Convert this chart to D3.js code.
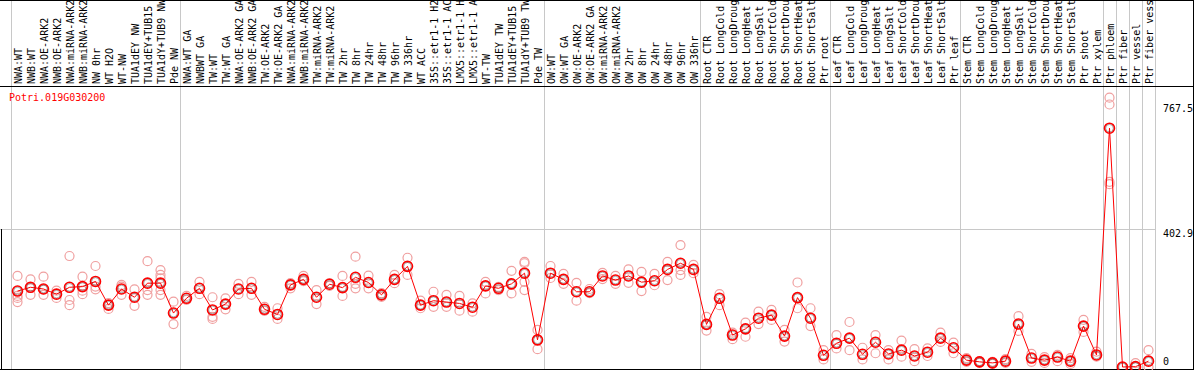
<!DOCTYPE html>
<html>
<head>
<meta charset="utf-8">
<script src="https://cdn.jsdelivr.net/npm/d3@7"></script>
<style>
  body { margin: 0; background: #fff; }
  svg { display: block; font-family: "DejaVu Sans Mono", monospace; font-size: 10px; }
</style>
</head>
<body>
<div id="chartContainer"></div>
<script>
// sample names, one column each
const samples = [
  "NWA:WT", "NWB:WT", "NWA:OE-ARK2", "NWB:OE-ARK2", "NWA:miRNA-ARK2", "NWB:miRNA-ARK2",
  "NW 0hr", "WT H2O", "WT-NW", "TUA1dEY NW", "TUA1dEY+TUB15 NW", "TUA1dY+TUB9 NW", "Pde NW",
  "NWA:WT GA", "NWBWT GA", "TW:WT", "TW:WT GA", "NWA:OE-ARK2 GA", "NWB:OE-ARK2 GA",
  "TW:OE-ARK2", "TW:OE-ARK2 GA", "NWA:miRNA-ARK2", "NWB:miRNA-ARK2", "TW:miRNA-ARK2", "TW:miRNA-ARK2",
  "TW 2hr", "TW 8hr", "TW 24hr", "TW 48hr", "TW 96hr", "TW 336hr", "WT ACC",
  "35S::etr1-1 H2O", "35S::etr1-1 ACC", "LMX5::etr1-1 H2O", "LMX5::etr1-1 ACC",
  "WT-TW", "TUA1dEY TW", "TUA1dEY+TUB15 TW", "TUA1dY+TUB9 TW", "Pde TW",
  "OW:WT", "OW:WT GA", "OW:OE-ARK2", "OW:OE-ARK2 GA", "OW:miRNA-ARK2", "OW:miRNA-ARK2",
  "OW 2hr", "OW 8hr", "OW 24hr", "OW 48hr", "OW 96hr", "OW 336hr",
  "Root CTR", "Root LongCold", "Root LongDrought", "Root LongHeat", "Root LongSalt",
  "Root ShortCold", "Root ShortDrought", "Root ShortHeat", "Root ShortSalt", "Ptr root",
  "Leaf CTR", "Leaf LongCold", "Leaf LongDrought", "Leaf LongHeat", "Leaf LongSalt",
  "Leaf ShortCold", "Leaf ShortDrought", "Leaf ShortHeat", "Leaf ShortSalt", "Ptr leaf",
  "Stem CTR", "Stem LongCold", "Stem LongDrought", "Stem LongHeat", "Stem LongSalt",
  "Stem ShortCold", "Stem ShortDrought", "Stem ShortHeat", "Stem ShortSalt", "Ptr shoot",
  "Ptr xylem", "Ptr phloem", "Ptr fiber", "Ptr vessel", "Ptr fiber vessel"
];

// column index where each group separator sits
const groupBreaks = [0, 13, 41, 53, 63, 73, 84, 85, 86, 87, 88];

// mean expression per sample
const means = [
  221, 232, 227, 212, 232, 234, 249, 180, 227, 203, 244, 244, 157,
  200, 229, 166, 183, 227, 229, 168, 153, 239, 255, 203, 241,
  231, 261, 246, 210, 255, 293, 180, 193, 189, 185, 174,
  236, 229, 242, 273, 79,
  273, 255, 219, 219, 265, 253, 265, 247, 251, 284, 302, 284,
  124, 200, 93, 111, 142, 151, 90, 202, 142, 34,
  69, 84, 37, 72, 38, 49, 32, 43, 84, 56,
  20, 15, 12, 17, 125, 26, 20, 29, 17, 119,
  35, 695, 0, 1, 17
];

// individual replicates per sample
const replicates = [
  [265, 207, 201, 189], [255, 230, 210], [263, 226, 210], [222, 201], [323, 195, 180],
  [263, 222, 212], [294, 234, 226], [186, 169], [239, 234, 210], [226, 178],
  [308, 224, 210], [282, 268, 258, 224, 210], [190, 125],
  [207, 195], [248, 212], [203, 146, 140], [200, 168], [242, 212], [248, 210],
  [175, 163], [171, 140], [244, 229], [265, 250], [224, 183], [244, 236],
  [265, 207], [321, 242, 229], [266, 229], [215, 204], [268, 244], [318, 268],
  [193, 171], [219, 175], [210, 175], [207, 164], [185, 161],
  [248, 214], [233, 224], [280, 214], [306, 302, 248, 224], [108, 52],
  [294, 259], [271, 242], [245, 193], [227, 215], [274, 256], [265, 242],
  [284, 245], [277, 221], [271, 238], [306, 253], [355, 282, 268], [297, 273],
  [146, 106], [212, 180], [100, 81], [129, 88], [161, 125], [166, 137],
  [108, 74], [246, 171], [171, 119], [49, 22],
  [93, 54], [131, 49], [56, 22], [93, 40], [49, 22], [77, 30], [52, 17],
  [54, 32], [100, 73], [71, 40],
  [26, 15], [17, 12], [15, 9], [23, 12], [148, 105], [38, 15], [29, 12],
  [35, 17], [26, 9], [137, 102],
  [45, 30], [784, 764, 539, 532], [0], [11, 0], [49, 0]
];

const axisTicks = [0, 402.9, 767.5];
const geneId = "Potri.019G030200";

const svgWidth = 1194;
const svgHeight = 370;
const plotLeft = 11, plotRight = 1155, plotBottom = 369, labelBase = 84, headerLine = 86;

const svg = d3.select("#chartContainer")
              .append("svg")
              .attr("width", svgWidth)
              .attr("height", svgHeight);

const xScale = d3.scaleLinear()
                 .domain([0, samples.length])
                 .range([plotLeft, plotRight]);

const yScale = d3.scaleLinear()
                 .domain([0, 767.5])
                 .range([367, 103.3]);

const cx = i => xScale(i + 0.5);

// group separators
svg.append("g")
   .selectAll("line")
   .data(groupBreaks)
   .enter()
   .append("line")
   .attr("x1", d => xScale(d) + 0.5)
   .attr("x2", d => xScale(d) + 0.5)
   .attr("y1", 0)
   .attr("y2", svgHeight)
   .attr("stroke", "#c8c8c8")
   .attr("stroke-width", 1);

// mid gridline
svg.append("line")
   .attr("x1", 0)
   .attr("x2", plotRight)
   .attr("y1", Math.round(yScale(402.9)) + 0.5)
   .attr("y2", Math.round(yScale(402.9)) + 0.5)
   .attr("stroke", "#c8c8c8");

// frame
svg.append("line")
   .attr("x1", 0).attr("x2", svgWidth)
   .attr("y1", 0.5).attr("y2", 0.5)
   .attr("stroke", "#000");
svg.append("line")
   .attr("x1", 0).attr("x2", svgWidth)
   .attr("y1", headerLine + 0.5).attr("y2", headerLine + 0.5)
   .attr("stroke", "#000");
svg.append("line")
   .attr("x1", 0).attr("x2", svgWidth)
   .attr("y1", plotBottom + 0.5).attr("y2", plotBottom + 0.5)
   .attr("stroke", "#000");
svg.append("line")
   .attr("x1", svgWidth - 0.5).attr("x2", svgWidth - 0.5)
   .attr("y1", 0).attr("y2", svgHeight)
   .attr("stroke", "#000");
svg.append("line")
   .attr("x1", 1.5).attr("x2", 1.5)
   .attr("y1", Math.round(yScale(402.9))).attr("y2", svgHeight)
   .attr("stroke", "#000");

// rotated sample labels (clipped at the top, as in the source)
svg.append("g")
   .selectAll("text")
   .data(samples)
   .enter()
   .append("text")
   .attr("transform", (d, i) => `translate(${cx(i) + 4.5}, ${labelBase}) rotate(-90)`)
   .attr("fill", "#000")
   .text(d => d);

// title
svg.append("text")
   .attr("x", 9)
   .attr("y", 101)
   .attr("fill", "#ff0000")
   .text(geneId);

// right axis
const axis = svg.append("g")
                .attr("transform", `translate(${plotRight + 8}, 0)`)
                .call(d3.axisRight(yScale).tickValues(axisTicks).tickSize(0).tickPadding(0)
                        .tickFormat(d => d === 0 ? "0" : d3.format(".1f")(d)));
axis.select(".domain").remove();
axis.selectAll("text")
    .attr("fill", "#000")
    .style("font-family", "DejaVu Sans Mono, monospace")
    .style("font-size", "10px")
    .attr("dy", d => d === 0 ? "-0.25em" : "0.8em");

// replicate circles
const reps = [];
replicates.forEach((vals, i) => vals.forEach(v => reps.push({ i: i, v: v })));
svg.append("g")
   .selectAll("circle")
   .data(reps)
   .enter()
   .append("circle")
   .attr("cx", d => cx(d.i))
   .attr("cy", d => yScale(d.v))
   .attr("r", 4.5)
   .attr("fill", "none")
   .attr("stroke", "#f0a0a0")
   .attr("stroke-width", 1.2);

// mean line
const line = d3.line()
               .x((d, i) => cx(i))
               .y(d => yScale(d));

svg.append("path")
   .datum(means)
   .attr("fill", "none")
   .attr("stroke", "#ff0000")
   .attr("stroke-width", 1)
   .attr("d", line);

// mean markers
const meanG = svg.append("g");
meanG.selectAll("circle.outer")
     .data(means)
     .enter()
     .append("circle")
     .attr("class", "outer")
     .attr("cx", (d, i) => cx(i))
     .attr("cy", d => yScale(d))
     .attr("r", 5)
     .attr("fill", "none")
     .attr("stroke", "#ff0000")
     .attr("stroke-width", 1.6);
meanG.selectAll("circle.inner")
     .data(means)
     .enter()
     .append("circle")
     .attr("class", "inner")
     .attr("cx", (d, i) => cx(i))
     .attr("cy", d => yScale(d))
     .attr("r", 3.8)
     .attr("fill", "none")
     .attr("stroke", "#000")
     .attr("stroke-opacity", 0.55)
     .attr("stroke-width", 0.6);
</script>
</body>
</html>
